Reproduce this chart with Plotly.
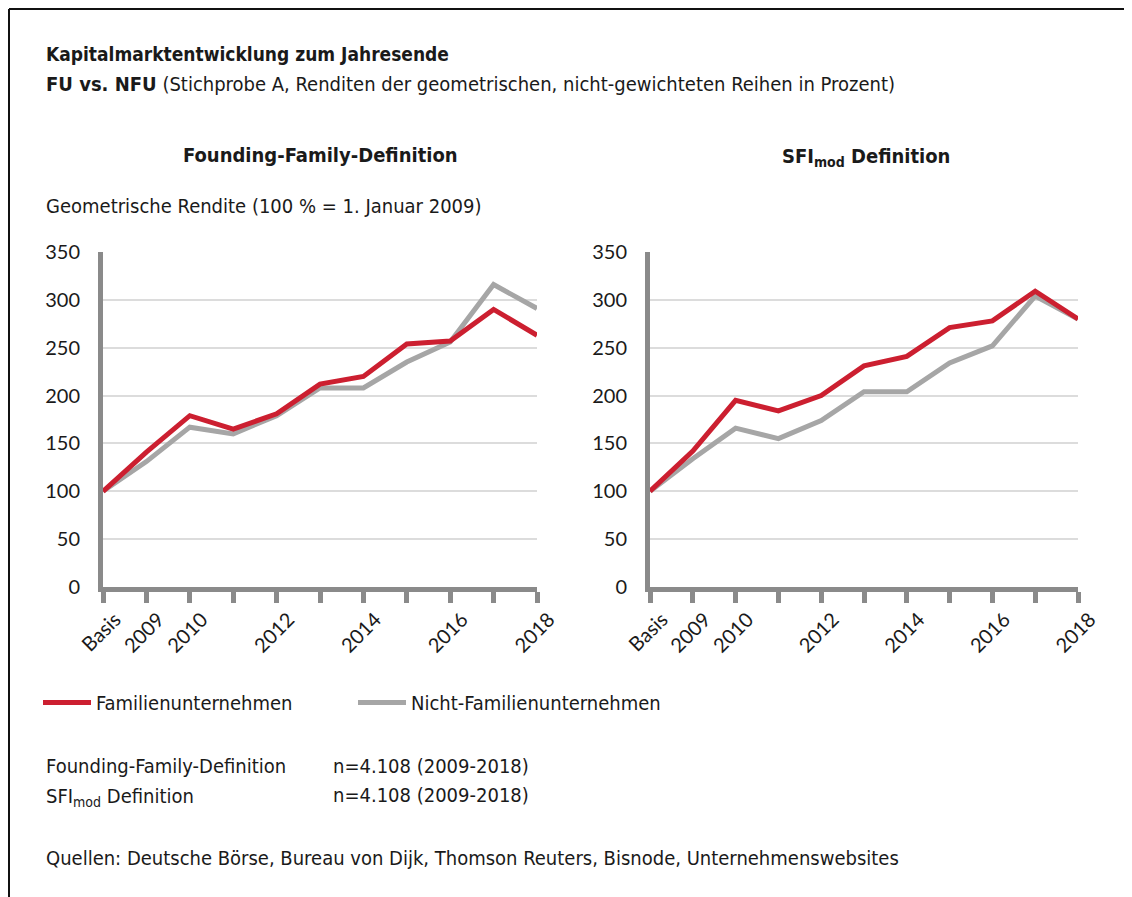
import plotly.graph_objects as go

OFF = 8  # page body margin
W, H = 1132 - OFF, 897 - OFF

categories = ["Basis", "2009", "2010", "2011", "2012", "2013", "2014", "2015", "2016", "2017", "2018"]
labelled = ["Basis", "2009", "2010", "2012", "2014", "2016", "2018"]

ff_fu = [100, 141, 179, 165, 181, 212, 220, 254, 257, 290, 263]
ff_nfu = [100, 131, 167, 160, 179, 208, 208, 235, 256, 316, 291]
sfi_fu = [100, 142, 195, 184, 200, 231, 241, 271, 278, 309, 280]
sfi_nfu = [100, 134, 166, 155, 174, 204, 204, 234, 252, 304, 280]

y_ticks = [0, 50, 100, 150, 200, 250, 300, 350]

RED = "#cc1f30"
GREY = "#a6a6a6"
AXIS = "#8a8a8a"
GRID = "#dcdcdc"
TXT = "DejaVu Sans Condensed, Roboto Condensed, Liberation Sans Narrow, Roboto, sans-serif"
NUM = "Lato, sans-serif"

xpos = list(range(len(categories)))
label_pos = [categories.index(c) for c in labelled]

def px_x(p):
    return (p - OFF) / W

def px_y(p):
    return 1 - (p - OFF) / H

fig = go.Figure()

fig.add_trace(go.Scatter(x=xpos, y=ff_nfu, mode="lines", name="Nicht-Familienunternehmen",
                         customdata=categories, hovertemplate="%{customdata}: %{y}",
                         line=dict(color=GREY, width=5), xaxis="x", yaxis="y", legendrank=2))
fig.add_trace(go.Scatter(x=xpos, y=ff_fu, mode="lines", name="Familienunternehmen",
                         customdata=categories, hovertemplate="%{customdata}: %{y}",
                         line=dict(color=RED, width=5), xaxis="x", yaxis="y", legendrank=1))
fig.add_trace(go.Scatter(x=xpos, y=sfi_nfu, mode="lines", name="Nicht-Familienunternehmen",
                         customdata=categories, hovertemplate="%{customdata}: %{y}",
                         line=dict(color=GREY, width=5), xaxis="x2", yaxis="y2", showlegend=False))
fig.add_trace(go.Scatter(x=xpos, y=sfi_fu, mode="lines", name="Familienunternehmen",
                         customdata=categories, hovertemplate="%{customdata}: %{y}",
                         line=dict(color=RED, width=5), xaxis="x2", yaxis="y2", showlegend=False))

y_dom = [px_y(587), px_y(252)]

xaxis_common = dict(
    type="linear", range=[0, len(categories) - 1], tickvals=label_pos, ticktext=labelled,
    tickangle=-45, showline=True, linewidth=5, linecolor=AXIS,
    ticks="outside", ticklen=11, tickwidth=5, tickcolor=AXIS,
    minor=dict(ticks="outside", ticklen=11, tickwidth=5, tickcolor=AXIS,
               tickmode="linear", tick0=0, dtick=1, showgrid=False),
    showgrid=False, zeroline=False, automargin=False,
    tickfont=dict(family=NUM, size=20, color="#1a1a1a"),
    ticklabelshift=12, ticklabelstandoff=-3,
)
yaxis_common = dict(
    range=[0, 350], tickvals=y_ticks, showline=True, linewidth=5, linecolor=AXIS,
    showgrid=True, gridcolor=GRID, gridwidth=2, zeroline=False, ticks="",
    automargin=False,
    tickfont=dict(family=NUM, size=20, color="#1a1a1a"), ticklabelstandoff=14,
)

fig.update_layout(
    template="none",
    width=W, height=H,
    margin=dict(l=0, r=0, t=0, b=0, autoexpand=False),
    paper_bgcolor="white", plot_bgcolor="white",
    xaxis=dict(domain=[px_x(103), px_x(537)], anchor="y", **xaxis_common),
    yaxis=dict(domain=y_dom, anchor="x", **yaxis_common),
    xaxis2=dict(domain=[px_x(650), px_x(1078)], anchor="y2", **xaxis_common),
    yaxis2=dict(domain=y_dom, anchor="x2", **yaxis_common),
    legend=dict(orientation="h", x=px_x(38), y=px_y(683), xanchor="left", yanchor="top",
                font=dict(family=TXT, size=20, color="#1a1a1a"),
                entrywidth=252, entrywidthmode="pixels", traceorder="normal",
                itemwidth=48, bgcolor="rgba(0,0,0,0)"),
    font=dict(family=TXT, color="#1a1a1a"),
    showlegend=True,
)

ann = []
def add_text(text, x, y, size=20, xanchor="left"):
    ann.append(dict(text=text, x=px_x(x), y=px_y(y), xref="paper", yref="paper",
                    xanchor=xanchor, yanchor="middle", showarrow=False,
                    font=dict(family=TXT, size=size, color="#1a1a1a")))

add_text("<b>Kapitalmarktentwicklung zum Jahresende</b>", 44, 54, size=19)
add_text("<b>FU vs. NFU</b> (Stichprobe A, Renditen der geometrischen, nicht-gewichteten Reihen in Prozent)", 44, 84, size=20)
add_text("<b>Founding-Family-Definition</b>", 320, 155, size=20, xanchor="center")
add_text("<b>SFI<sub>mod</sub> Definition</b>", 866, 157, size=20, xanchor="center")
add_text("Geometrische Rendite (100 % = 1. Januar 2009)", 44, 206, size=20)
add_text("Founding-Family-Definition", 44, 766, size=20)
add_text("n=4.108 (2009-2018)", 331, 766, size=20)
add_text("SFI<sub>mod</sub> Definition", 44, 797, size=20)
add_text("n=4.108 (2009-2018)", 331, 795, size=20)
add_text("Quellen: Deutsche Börse, Bureau von Dijk, Thomson Reuters, Bisnode, Unternehmenswebsites", 44, 858, size=20)

fig.update_layout(annotations=ann)

fig.update_layout(shapes=[
    dict(type="line", xref="paper", yref="paper", x0=px_x(9), x1=1, y0=px_y(9), y1=px_y(9),
         line=dict(color="#111111", width=2)),
    dict(type="line", xref="paper", yref="paper", x0=px_x(9), x1=px_x(9), y0=px_y(9), y1=0,
         line=dict(color="#111111", width=2)),
])

fig.write_html("out.html")
